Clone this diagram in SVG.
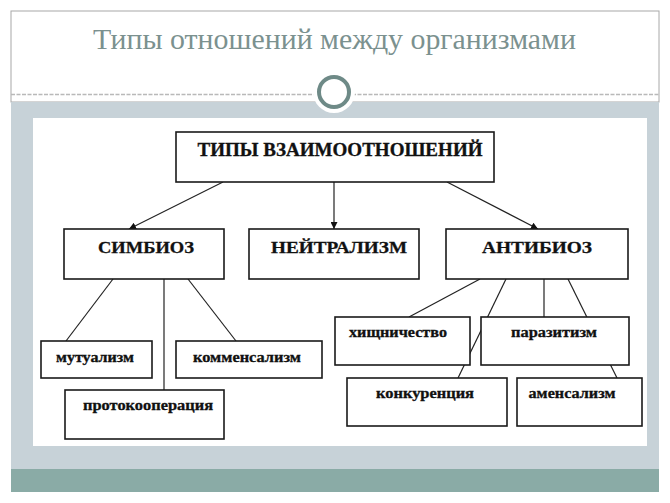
<svg xmlns="http://www.w3.org/2000/svg" width="670" height="503" viewBox="0 0 670 503">
<defs>
<style>
.box{fill:#fff;stroke:#1a1a1a;stroke-width:1.6}
.t{font-family:'Liberation Serif','Times New Roman',serif;font-weight:bold;fill:#111;text-anchor:middle;stroke:#111;stroke-width:0.3}
.big{font-size:17px}
.sm{font-size:14px}
.ln{stroke:#222;stroke-width:1.2;fill:none}
</style>
<marker id="ah" viewBox="0 0 10 10" refX="10" refY="5" markerWidth="7" markerHeight="7" orient="auto" markerUnits="userSpaceOnUse">
<path d="M0,0 L10,5 L0,10 z" fill="#111"/>
</marker>
</defs>
<rect x="0" y="0" width="670" height="503" fill="#fff"/>
<rect x="11" y="11" width="648" height="91" fill="#fff" stroke="#a8a8a8" stroke-width="1"/>
<text x="334.5" y="49" font-family="'Liberation Serif','Times New Roman',serif" font-size="29" fill="#7b918f" text-anchor="middle" textLength="483" lengthAdjust="spacingAndGlyphs">Типы отношений между организмами</text>
<line x1="11" y1="94.5" x2="659" y2="94.5" stroke="#b9b9b9" stroke-width="1.5" stroke-dasharray="4,1.5"/>
<rect x="11" y="102" width="648" height="367" fill="#c7d2d8"/>
<rect x="11" y="469" width="648" height="23" fill="#8aaba6"/>
<rect x="33" y="118" width="614" height="328" fill="#fff"/>
<circle cx="334" cy="92" r="21" fill="#fff"/>
<circle cx="334" cy="92" r="15" fill="#fff" stroke="#6e8a87" stroke-width="4"/>
<g id="connectors">
<line class="ln" x1="223" y1="182" x2="129" y2="229" marker-end="url(#ah)"/>
<line class="ln" x1="334" y1="182" x2="334" y2="229" marker-end="url(#ah)"/>
<line class="ln" x1="447" y1="182" x2="538" y2="229" marker-end="url(#ah)"/>
<line class="ln" x1="113" y1="279" x2="66" y2="341"/>
<line class="ln" x1="164" y1="279" x2="164" y2="390"/>
<line class="ln" x1="188" y1="279" x2="236" y2="341"/>
<line class="ln" x1="480" y1="279" x2="409" y2="317"/>
<line class="ln" x1="506" y1="279" x2="458" y2="378"/>
<line class="ln" x1="544" y1="279" x2="544" y2="317"/>
<line class="ln" x1="568" y1="279" x2="617" y2="378"/>
</g>
<g id="n-types">
<rect class="box" x="176" y="132" width="318" height="50"/>
<text class="t" x="340" y="156" font-size="18" textLength="285" lengthAdjust="spacingAndGlyphs">ТИПЫ ВЗАИМООТНОШЕНИЙ</text>
</g>
<g id="n-symbiosis">
<rect class="box" x="64" y="229" width="160" height="50"/>
<text class="t big" x="146" y="253" textLength="96" lengthAdjust="spacingAndGlyphs">СИМБИОЗ</text>
</g>
<g id="n-neutralism">
<rect class="box" x="249" y="229" width="170" height="50"/>
<text class="t big" x="339" y="253" textLength="136" lengthAdjust="spacingAndGlyphs">НЕЙТРАЛИЗМ</text>
</g>
<g id="n-antibiosis">
<rect class="box" x="446" y="229" width="182" height="50"/>
<text class="t big" x="537" y="253" textLength="110" lengthAdjust="spacingAndGlyphs">АНТИБИОЗ</text>
</g>
<g id="n-mutualism">
<rect class="box" x="41" y="341" width="111" height="37"/>
<text class="t sm" x="95" y="362" textLength="78" lengthAdjust="spacingAndGlyphs">мутуализм</text>
</g>
<g id="n-commensalism">
<rect class="box" x="176" y="341" width="146" height="37"/>
<text class="t sm" x="247" y="362" textLength="108" lengthAdjust="spacingAndGlyphs">комменсализм</text>
</g>
<g id="n-protocooperation">
<rect class="box" x="65" y="390" width="159" height="49"/>
<text class="t sm" x="148" y="410" textLength="130" lengthAdjust="spacingAndGlyphs">протокооперация</text>
</g>
<g id="n-predation">
<rect class="box" x="335" y="317" width="135" height="48"/>
<text class="t sm" x="398" y="337" textLength="98" lengthAdjust="spacingAndGlyphs">хищничество</text>
</g>
<g id="n-parasitism">
<rect class="box" x="481" y="317" width="148" height="48"/>
<text class="t sm" x="554" y="337" textLength="86" lengthAdjust="spacingAndGlyphs">паразитизм</text>
</g>
<g id="n-competition">
<rect class="box" x="347" y="378" width="160" height="48"/>
<text class="t sm" x="425" y="398" textLength="98" lengthAdjust="spacingAndGlyphs">конкуренция</text>
</g>
<g id="n-amensalism">
<rect class="box" x="517" y="378" width="125" height="48"/>
<text class="t sm" x="572" y="398" textLength="87" lengthAdjust="spacingAndGlyphs">аменсализм</text>
</g>
</svg>
